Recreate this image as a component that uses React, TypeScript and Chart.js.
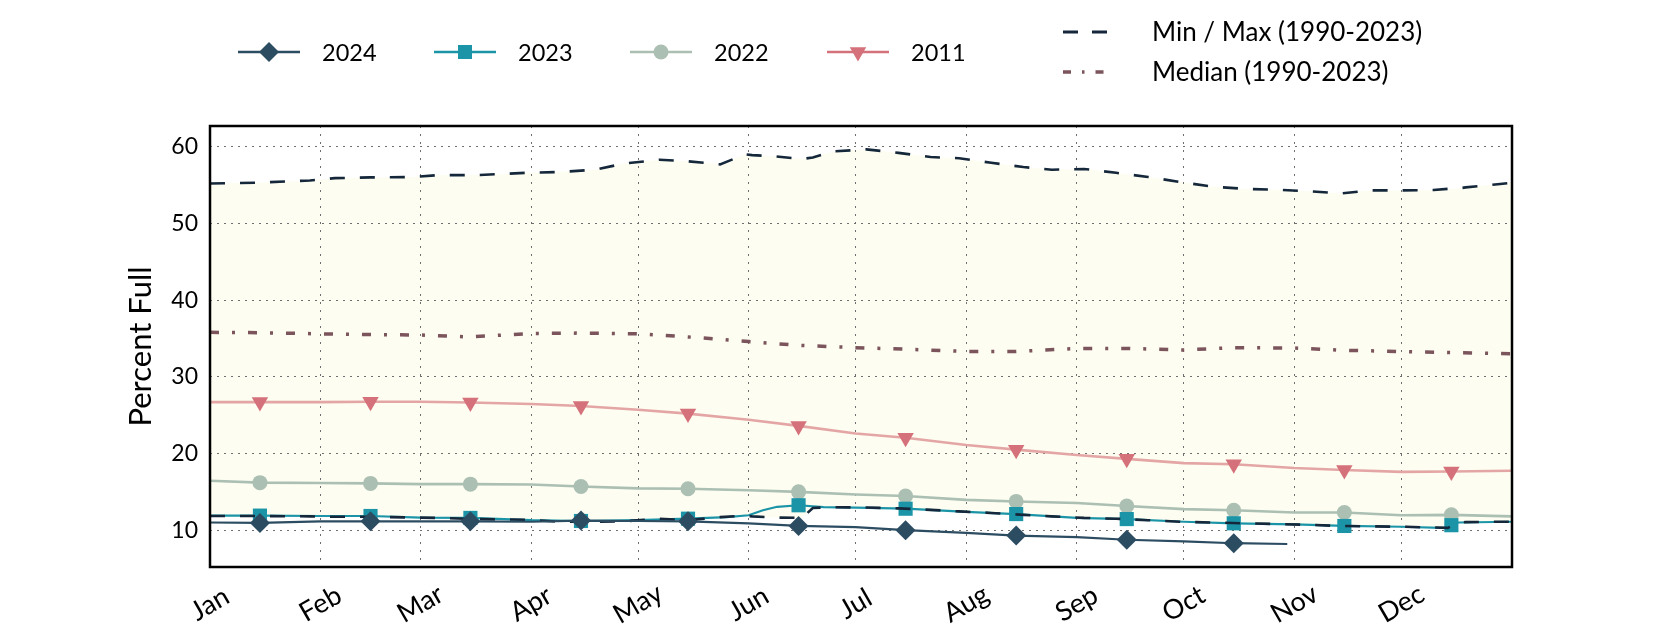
import React, { useEffect, useRef } from 'react';
import { Chart, registerables } from 'chart.js';

Chart.register(...registerables);

const MONTHS = ['Jan', 'Feb', 'Mar', 'Apr', 'May', 'Jun', 'Jul', 'Aug', 'Sep', 'Oct', 'Nov', 'Dec'];
const MONTH_START_DAYS = [0, 31, 59, 90, 120, 151, 181, 212, 243, 273, 304, 334];
const MARKER_DAYS = [14, 45, 73, 104, 134, 165, 195, 226, 257, 287, 318, 348];
const Y_TICKS = [10, 20, 30, 40, 50, 60];

const DAYS = [0, 14, 31, 45, 59, 73, 90, 104, 120, 134, 151, 165, 181, 195, 212, 226, 243, 257, 273, 287, 304, 318, 334, 348, 365];
const V2022 = [16.45, 16.2, 16.15, 16.1, 16.0, 16.0, 15.95, 15.7, 15.45, 15.4, 15.2, 15.0, 14.65, 14.45, 13.95, 13.75, 13.55, 13.15, 12.75, 12.6, 12.3, 12.3, 11.95, 12.0, 11.8];
const V2011 = [26.7, 26.7, 26.7, 26.75, 26.75, 26.65, 26.45, 26.2, 25.7, 25.2, 24.4, 23.6, 22.6, 22.05, 21.1, 20.5, 19.8, 19.3, 18.75, 18.6, 18.1, 17.85, 17.6, 17.65, 17.75];
const MEDIAN = [35.8, 35.75, 35.6, 35.5, 35.45, 35.2, 35.65, 35.7, 35.6, 35.2, 34.6, 34.1, 33.8, 33.6, 33.3, 33.3, 33.7, 33.7, 33.5, 33.8, 33.75, 33.45, 33.3, 33.15, 33.0];

const DAYS_2024 = [0, 14, 31, 45, 59, 73, 90, 104, 120, 134, 151, 165, 181, 195, 212, 226, 243, 257, 273, 287, 302];
const V2024 = [11.0, 10.95, 11.15, 11.15, 11.15, 11.15, 11.1, 11.25, 11.2, 11.15, 10.9, 10.55, 10.4, 10.0, 9.65, 9.3, 9.1, 8.75, 8.55, 8.3, 8.2];

const DAYS_2023 = [0, 14, 31, 45, 59, 73, 90, 104, 120, 134, 145, 151, 155, 159, 165, 172, 181, 195, 212, 226, 243, 257, 273, 287, 304, 318, 334, 345, 347, 348, 350, 365];
const V2023 = [11.9, 11.9, 11.85, 11.85, 11.65, 11.6, 11.3, 11.2, 11.3, 11.5, 11.7, 11.95, 12.6, 13.05, 13.25, 13.0, 12.95, 12.8, 12.4, 12.1, 11.6, 11.45, 11.1, 10.9, 10.75, 10.55, 10.45, 10.3, 10.3, 10.65, 11.0, 11.1];

const DAYS_MINMAX = [0, 13, 28, 35, 45, 57, 64, 75, 89, 98, 108, 116, 126, 134, 143, 150, 152, 158, 166, 169, 175, 184, 193, 202, 210, 219, 228, 236, 245, 254, 263, 272, 281, 290, 299, 308, 317, 325, 334, 343, 347, 350, 352, 361, 365];
const MAX = [55.2, 55.3, 55.6, 55.9, 56.0, 56.05, 56.3, 56.3, 56.6, 56.7, 57.0, 57.8, 58.3, 58.1, 57.7, 59.0, 58.9, 58.75, 58.4, 58.6, 59.4, 59.65, 59.2, 58.65, 58.5, 57.9, 57.35, 57.0, 57.1, 56.6, 56.05, 55.4, 54.8, 54.5, 54.4, 54.2, 53.9, 54.3, 54.3, 54.35, 54.5, 54.55, 54.7, 55.1, 55.3];
const MIN = [11.85, 11.85, 11.8, 11.75, 11.75, 11.65, 11.6, 11.45, 11.35, 11.1, 11.1, 11.15, 11.5, 11.3, 11.7, 11.9, 11.8, 11.65, 11.6, 12.9, 13.0, 12.95, 12.85, 12.65, 12.45, 12.25, 12.0, 11.8, 11.6, 11.5, 11.3, 11.1, 11.0, 10.9, 10.8, 10.7, 10.55, 10.5, 10.45, 10.35, 10.3, 11.0, 11.05, 11.1, 11.1];

const C2024 = '#2c4c62';
const C2023 = '#1b94a7';
const C2022 = '#abbfb3';
const C2011 = '#d4717a';
const C2011_LINE = '#e4a6a5';
const C_MINMAX = '#15273a';
const C_MEDIAN = '#7b545c';
const C_FILL = '#fdfdf1';
const FONT = 'Lato, "Noto Sans", sans-serif';

const pts = (xs: number[], ys: number[]) => xs.map((x, i) => ({ x, y: ys[i] }));
const markerRadius = (r: number) => (ctx: any) => (ctx.raw && MARKER_DAYS.includes(ctx.raw.x) ? r : 0);

function drawMarker(ctx: CanvasRenderingContext2D, kind: string, x: number, y: number, color: string) {
  ctx.save();
  ctx.fillStyle = color;
  ctx.beginPath();
  if (kind === 'diamond') {
    const r = 10;
    ctx.moveTo(x, y - r); ctx.lineTo(x + r, y); ctx.lineTo(x, y + r); ctx.lineTo(x - r, y);
  } else if (kind === 'square') {
    ctx.rect(x - 7, y - 7, 14, 14);
  } else if (kind === 'circle') {
    ctx.arc(x, y, 7.5, 0, Math.PI * 2);
  } else if (kind === 'tri') {
    const r = 9.5;
    ctx.moveTo(x, y + r);
    ctx.lineTo(x - r * 0.866, y - r * 0.5);
    ctx.lineTo(x + r * 0.866, y - r * 0.5);
  }
  ctx.closePath();
  ctx.fill();
  ctx.restore();
}

const decorPlugin = {
  id: 'decor',
  afterDraw(chart: any) {
    const { ctx, chartArea } = chart;
    const { left, right, top, bottom } = chartArea;
    ctx.save();
    // frame
    ctx.strokeStyle = '#000';
    ctx.lineWidth = 2.5;
    ctx.setLineDash([]);
    ctx.strokeRect(left, top, right - left, bottom - top);

    // x labels (centered, rotated)
    ctx.fillStyle = '#000';
    ctx.font = `27px ${FONT}`;
    ctx.textAlign = 'center';
    ctx.textBaseline = 'middle';
    const xs = chart.scales.x;
    MONTH_START_DAYS.forEach((d, i) => {
      const px = xs.getPixelForValue(d);
      ctx.save();
      ctx.translate(px, bottom + 37);
      ctx.rotate(-Math.PI / 6);
      ctx.fillText(MONTHS[i], 0, 0);
      ctx.restore();
    });

    // y title
    ctx.save();
    ctx.translate(141, (top + bottom) / 2);
    ctx.rotate(-Math.PI / 2);
    ctx.font = `31px ${FONT}`;
    ctx.fillText('Percent Full', 0, 0);
    ctx.restore();

    // legend
    ctx.textAlign = 'left';
    const items = [
      { label: '2024', color: C2024, kind: 'diamond', x: 238 },
      { label: '2023', color: C2023, kind: 'square', x: 434 },
      { label: '2022', color: C2022, kind: 'circle', x: 630 },
      { label: '2011', color: C2011, kind: 'tri', x: 827 },
    ];
    const ly = 52;
    ctx.font = `23.5px ${FONT}`;
    items.forEach((it) => {
      ctx.strokeStyle = it.color;
      ctx.lineWidth = 2.5;
      ctx.beginPath();
      ctx.moveTo(it.x, ly);
      ctx.lineTo(it.x + 62, ly);
      ctx.stroke();
      drawMarker(ctx, it.kind, it.x + 31, ly, it.color);
      ctx.fillStyle = '#000';
      ctx.fillText(it.label, it.x + 84, ly + 1);
    });
    ctx.font = `26px ${FONT}`;
    // min/max
    ctx.strokeStyle = C_MINMAX;
    ctx.lineWidth = 3;
    ctx.setLineDash([15, 14]);
    ctx.beginPath();
    ctx.moveTo(1063, 32);
    ctx.lineTo(1112, 32);
    ctx.stroke();
    ctx.fillStyle = '#000';
    ctx.fillText('Min / Max (1990-2023)', 1152, 33);
    // median
    ctx.strokeStyle = C_MEDIAN;
    ctx.lineWidth = 3.5;
    ctx.setLineDash([8, 11, 2.5, 11]);
    ctx.beginPath();
    ctx.moveTo(1063, 72);
    ctx.lineTo(1112, 72);
    ctx.stroke();
    ctx.setLineDash([]);
    ctx.fillText('Median (1990-2023)', 1152, 73);
    ctx.restore();
  },
};

export default function App() {
  const ref = useRef<HTMLCanvasElement | null>(null);
  useEffect(() => {
    document.body.style.margin = '0';
    const canvas = ref.current;
    if (!canvas) return;
    const chart = new Chart(canvas, {
      type: 'line',
      data: {
        datasets: [
          {
            label: '2024', data: pts(DAYS_2024, V2024), order: 0,
            borderColor: C2024, borderWidth: 2.2, pointStyle: 'rectRot',
            pointRadius: markerRadius(10), pointBackgroundColor: C2024, pointBorderColor: C2024, pointBorderWidth: 0,
          },
          {
            label: 'Min', data: pts(DAYS_MINMAX, MIN), order: 1,
            borderColor: C_MINMAX, borderWidth: 2.6, borderDash: [15, 15], pointRadius: 0,
          },
          {
            label: '2023', data: pts(DAYS_2023, V2023), order: 2,
            borderColor: C2023, borderWidth: 2.2, pointStyle: 'rect',
            pointRadius: markerRadius(10), pointBackgroundColor: C2023, pointBorderColor: C2023, pointBorderWidth: 0,
          },
          {
            label: '2022', data: pts(DAYS, V2022), order: 3,
            borderColor: C2022, borderWidth: 2.6, pointStyle: 'circle',
            pointRadius: markerRadius(7.5), pointBackgroundColor: C2022, pointBorderColor: C2022, pointBorderWidth: 0,
          },
          {
            label: '2011', data: pts(DAYS, V2011), order: 4,
            borderColor: C2011_LINE, borderWidth: 2.6, pointStyle: 'triangle', pointRotation: 180,
            pointRadius: markerRadius(9.5), pointBackgroundColor: C2011, pointBorderColor: C2011, pointBorderWidth: 0,
          },
          {
            label: 'Median', data: pts(DAYS, MEDIAN), order: 5,
            borderColor: C_MEDIAN, borderWidth: 3.5, borderDash: [9, 13, 3, 13], pointRadius: 0,
          },
          {
            label: 'Max', data: pts(DAYS_MINMAX, MAX), order: 6,
            borderColor: C_MINMAX, borderWidth: 2.6, borderDash: [15, 15], pointRadius: 0,
            fill: { target: 1 }, backgroundColor: C_FILL,
          },
        ],
      },
      options: {
        responsive: false,
        animation: false,
        events: [],
        layout: { padding: { left: 0, right: 168, top: 126, bottom: 0 } },
        plugins: {
          legend: { display: false },
          tooltip: { enabled: false },
          filler: { drawTime: 'beforeDraw' },
        } as any,
        scales: {
          x: {
            type: 'linear', min: 0, max: 365,
            afterBuildTicks: (s: any) => { s.ticks = MONTH_START_DAYS.map((v) => ({ value: v })); },
            afterFit: (s: any) => { s.height = 63; },
            ticks: { display: false },
            grid: { color: '#6f6f6f', lineWidth: 1, drawTicks: false },
            border: { display: false, dash: [2, 6] },
          },
          y: {
            type: 'linear', min: 5.2, max: 62.7,
            afterBuildTicks: (s: any) => { s.ticks = Y_TICKS.map((v) => ({ value: v })); },
            afterFit: (s: any) => { s.width = 210; },
            ticks: { color: '#000', font: { family: FONT, size: 23 }, padding: 12 },
            grid: { color: '#6f6f6f', lineWidth: 1, drawTicks: false },
            border: { display: false, dash: [2, 5] },
          },
        },
      },
      plugins: [decorPlugin],
    } as any);
    return () => chart.destroy();
  }, []);
  return (
    <div style={{ position: 'absolute', left: 0, top: 0, width: 1680, height: 630, background: '#fff' }}>
      <canvas ref={ref} width={1680} height={630} />
    </div>
  );
}
